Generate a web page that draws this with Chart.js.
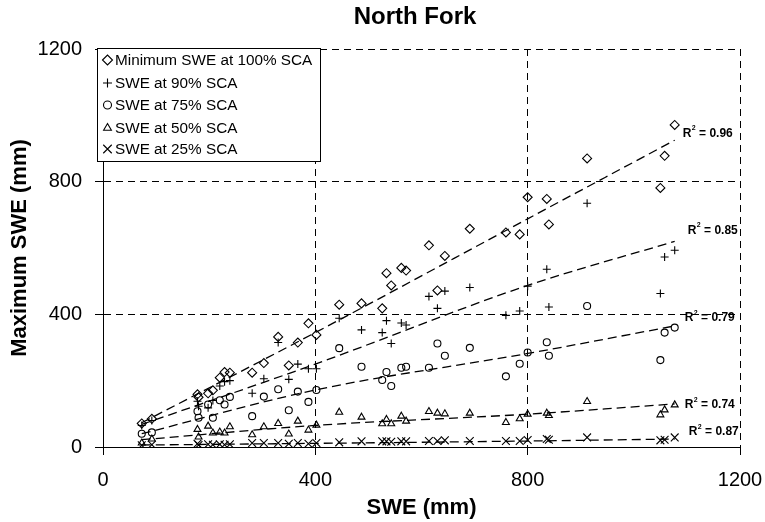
<!DOCTYPE html>
<html>
<head>
<meta charset="utf-8">
<script src="https://cdn.jsdelivr.net/npm/chart.js@4/dist/chart.umd.min.js"></script>
<style>
html,body{margin:0;padding:0;background:#fff;}
#c{display:block;}
</style>
</head>
<body>
<canvas id="c" width="765" height="522"></canvas>
<script>
// ---- data ----
const siteSWE   = [73, 92, 178, 180, 198, 207, 220, 229, 239, 281, 303, 330, 350, 367, 387, 402, 445, 487, 526, 534, 543, 562, 571, 614, 630, 644, 691, 759, 785, 800, 836, 840, 912, 1050, 1058, 1077];
const minSWE100 = [71, 85, 159, 150, 162, 171, 209, 226, 224, 224, 253, 332, 246, 315, 373, 338, 429, 433, 418, 524, 487, 540, 532, 608, 472, 576, 658, 647, 641, 753, 748, 671, 870, 781, 878, 971];
const swe90     = [65, 80, 138, 123, 118, 140, 184, 197, 200, 162, 206, 315, 204, 250, 236, 236, 388, 353, 345, 381, 312, 374, 368, 454, 418, 470, 481, 397, 410, 485, 536, 422, 735, 463, 573, 593];
const swe75     = [40, 44, 108, 88, 128, 88, 141, 128, 151, 93, 152, 174, 111, 167, 136, 172, 298, 242, 202, 226, 184, 239, 242, 239, 312, 275, 299, 213, 251, 285, 316, 275, 425, 262, 345, 360];
const swe50     = [12, 24, 53, 30, 63, 42, 45, 42, 61, 37, 61, 71, 39, 78, 51, 66, 105, 90, 70, 83, 70, 93, 78, 107, 102, 100, 102, 74, 85, 99, 102, 95, 137, 97, 112, 127];
const swe25     = [5, 7, 10, 6, 8, 7, 8, 7, 8, 12, 12, 12, 10, 12, 10, 12, 14, 17, 17, 17, 16, 17, 17, 18, 18, 20, 18, 18, 18, 21, 24, 22, 29, 20, 22, 29];

const seriesNames = ['Minimum SWE at 100% SCA', 'SWE at 90% SCA', 'SWE at 75% SCA', 'SWE at 50% SCA', 'SWE at 25% SCA'];

// trend lines (dashed)
const trendX   = [73, 400, 800, 1077];
const trend100 = [73, 345, 688, 925];
const trend90  = [68, 250, 487, 620];
const trend75  = [40, 172, 282, 365];
const trend50  = [22, 65, 99, 130];
const trend25  = [6, 11, 18, 24];
const rSquared = ['0.96', '0.85', '0.79', '0.74', '0.87'];

const axisTicks = [0, 400, 800, 1200];
const tickLabels = ['0', '400', '800', '1200'];
const chartTitle = 'North Fork';
const xTitle = 'SWE (mm)';
const yTitle = 'Maximum SWE (mm)';

// ---- styles ----
const FONT = "'Liberation Sans', Arial, Helvetica, sans-serif";
const styles = [
  {pointStyle: 'rectRot', radius: 4.5},
  {pointStyle: 'cross', radius: 4},
  {pointStyle: 'circle', radius: 3.5},
  {pointStyle: 'triangle', radius: 4},
  {pointStyle: 'crossRot', radius: 5.5}
];
const labelOffsets = [[8, -7], [13, -11], [10, -8], [10, 1], [14, -7]];

const seriesValues = [minSWE100, swe90, swe75, swe50, swe25];
const trendValues = [trend100, trend90, trend75, trend50, trend25];

const datasets = [];
seriesValues.forEach((vals, i) => {
  datasets.push({
    label: seriesNames[i],
    data: siteSWE.map((x, k) => ({x: x, y: vals[k]})),
    showLine: false,
    pointStyle: styles[i].pointStyle,
    pointRadius: styles[i].radius,
    pointBorderWidth: 1.1,
    borderColor: '#000',
    backgroundColor: 'rgba(0,0,0,0)',
    pointBackgroundColor: 'rgba(0,0,0,0)',
    pointBorderColor: '#000'
  });
});
trendValues.forEach((vals, i) => {
  datasets.push({
    label: 'trend ' + i,
    data: trendX.map((x, k) => ({x: x, y: vals[k]})),
    showLine: true,
    pointRadius: 0,
    borderColor: '#000',
    borderWidth: 1.3,
    borderDash: [9, 5],
    cubicInterpolationMode: 'monotone',
    fill: false
  });
});

const overlay = {
  id: 'overlay',
  afterDraw(chart) {
    const ctx = chart.ctx;
    const xs = chart.scales.x, ys = chart.scales.y;
    ctx.save();
    // title
    ctx.fillStyle = '#000';
    ctx.font = 'bold 24px ' + FONT;
    ctx.textAlign = 'center';
    ctx.textBaseline = 'middle';
    ctx.fillText(chartTitle, 415, 17);

    // R² labels at the end of each trend line
    const last = trendX.length - 1;
    trendValues.forEach((vals, i) => {
      const px = xs.getPixelForValue(trendX[last]) + labelOffsets[i][0];
      const py = ys.getPixelForValue(vals[last]) + labelOffsets[i][1];
      ctx.textAlign = 'left';
      ctx.textBaseline = 'middle';
      ctx.font = 'bold 12px ' + FONT;
      ctx.fillText('R', px, py);
      let w = ctx.measureText('R').width;
      ctx.font = 'bold 7px ' + FONT;
      ctx.fillText('2', px + w + 0.5, py - 5);
      const w2 = ctx.measureText('2').width;
      ctx.font = 'bold 12px ' + FONT;
      ctx.fillText(' = ' + rSquared[i], px + w + w2 + 0.5, py);
    });

    // legend box
    const bx = 97, by = 48, bw = 223, bh = 113;
    ctx.fillStyle = '#fff';
    ctx.fillRect(bx, by, bw, bh);
    ctx.strokeStyle = '#000';
    ctx.lineWidth = 1;
    ctx.strokeRect(bx + 0.5, by + 0.5, bw, bh);
    const rows = [60, 83, 105, 128, 149];
    seriesNames.forEach((name, i) => {
      ctx.strokeStyle = '#000';
      ctx.fillStyle = 'rgba(0,0,0,0)';
      ctx.lineWidth = 1.1;
      Chart.helpers.drawPoint(ctx, {pointStyle: styles[i].pointStyle, radius: styles[i].radius + 0.5, borderWidth: 1.1, rotation: 0}, 107.5, rows[i]);
      ctx.fillStyle = '#000';
      ctx.font = '15.3px ' + FONT;
      ctx.textAlign = 'left';
      ctx.textBaseline = 'middle';
      ctx.fillText(name, 115, rows[i] + 0.5);
    });
    ctx.restore();
  }
};

const axisCommon = (titleText, titlePad, fitFn) => ({
  type: 'linear',
  min: 0,
  max: 1200,
  afterBuildTicks: s => { s.ticks = axisTicks.map(v => ({value: v})); },
  afterFit: fitFn,
  grid: {
    color: '#000',
    lineWidth: 1,
    drawTicks: true,
    tickLength: 8,
    tickColor: '#000',
    tickWidth: 1,
    tickBorderDash: []
  },
  border: {display: true, color: '#000', width: 1, dash: [7, 5]},
  ticks: {
    color: '#000',
    font: {family: FONT, size: 20},
    padding: 13,
    maxRotation: 0,
    autoSkip: false,
    callback: (v) => { const k = axisTicks.indexOf(v); return k >= 0 ? tickLabels[k] : ''; }
  },
  title: {
    display: true,
    text: titleText,
    color: '#000',
    font: {family: FONT, size: 22, weight: 'bold'},
    padding: titlePad
  }
});

new Chart(document.getElementById('c').getContext('2d'), {
  type: 'scatter',
  data: {datasets: datasets},
  options: {
    responsive: false,
    animation: false,
    devicePixelRatio: 1,
    layout: {padding: {top: 49, right: 25, left: 0, bottom: 0}},
    plugins: {
      legend: {display: false},
      tooltip: {enabled: false},
      title: {display: false}
    },
    scales: {
      x: axisCommon(xTitle, {top: 0, bottom: 1}, s => { s.height = 75; s.paddingLeft = 0; s.paddingRight = 0; }),
      y: axisCommon(yTitle, {top: 7, bottom: 0}, s => { s.width = 103; s.paddingTop = 0; s.paddingBottom = 0; })
    }
  },
  plugins: [overlay]
});
</script>
</body>
</html>
